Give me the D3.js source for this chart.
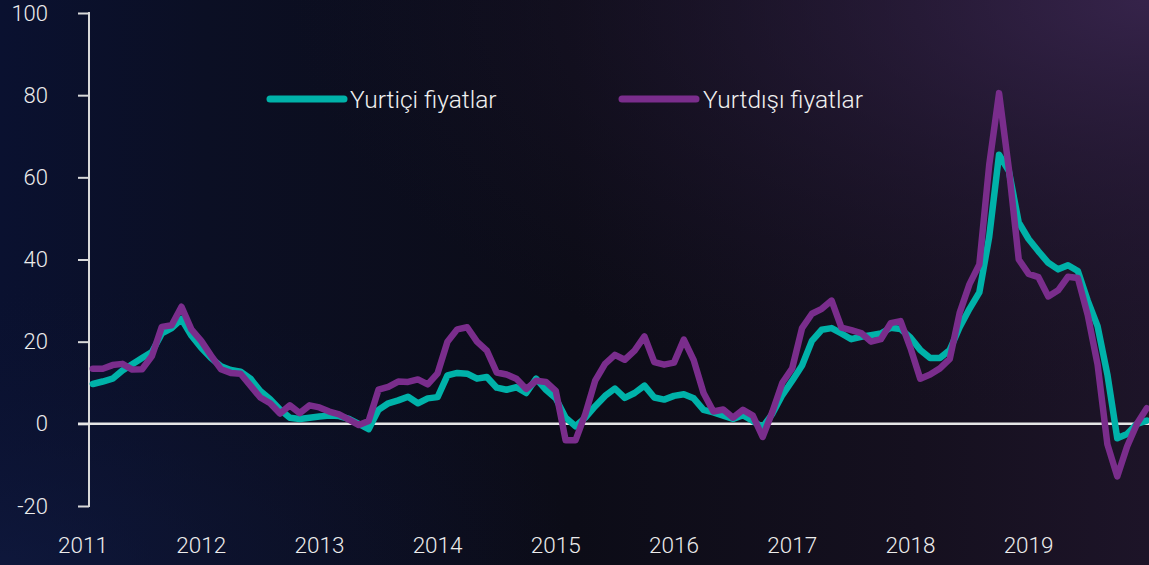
<!DOCTYPE html>
<html><head><meta charset="utf-8">
<script src="https://cdn.jsdelivr.net/npm/d3@7"></script>
<style>
html,body{margin:0;padding:0;background:#0c0c18;overflow:hidden;}
svg{display:block;}
</style></head>
<body>
<script>
// Monthly data, Feb 2011 .. Jan 2020 (month index since Jan 2011 starts at 1)
const seriesNames = ["Yurtiçi fiyatlar", "Yurtdışı fiyatlar"];
const yearLabels = ["2011","2012","2013","2014","2015","2016","2017","2018","2019"];
const yTicks = [-20, 0, 20, 40, 60, 80, 100];
const yurtici = [
  9.7, 10.3, 11, 13, 14.5, 16, 17.5, 22, 23.3, 25.5, 21.5, 18.5,
  16, 14, 13.1, 12.7, 11, 8, 6, 3.5, 1.5, 1.2, 1.5, 1.8,
  2, 1.9, 1.2, 0, -1.3, 3.4, 5, 5.7, 6.6, 5, 6.2, 6.5,
  11.8, 12.4, 12.2, 11, 11.4, 8.8, 8.3, 8.9, 7.5, 11, 8.3, 6.2,
  1.5, -0.6, 1.5, 4.3, 6.8, 8.6, 6.3, 7.5, 9.3, 6.4, 5.9, 6.8,
  7.2, 6.2, 3.4, 2.8, 2, 1.2, 2.1, 0.7, -0.8, 2.5, 7, 10.5,
  14.2, 20.2, 22.9, 23.3, 22, 20.6, 21.2, 21.6, 22, 23.4, 23.1, 21,
  18, 16, 16, 18, 23.5, 28, 32, 45.5, 65.5, 61.5, 49, 45,
  42, 39.2, 37.6, 38.6, 37.2, 30, 23.8, 12, -3.5, -2.5, 0, 0.8
];
const yurtdisi = [
  13.4, 13.4, 14.3, 14.6, 13.2, 13.3, 16.5, 23.6, 24, 28.5, 23, 20.2,
  16.6, 13.3, 12.4, 12.2, 9.3, 6.4, 5, 2.5, 4.5, 2.6, 4.5, 4,
  3, 2.3, 1, -0.3, 0.7, 8.3, 9, 10.3, 10.2, 10.8, 9.6, 12.3,
  20, 23, 23.5, 20, 17.8, 12.5, 12, 11, 8.5, 10.5, 10.2, 8,
  -4, -4, 2.4, 10.5, 14.6, 16.8, 15.6, 17.8, 21.3, 15, 14.4, 14.9,
  20.5, 15.5, 7.5, 3, 3.5, 1.5, 3.4, 2, -3.2, 3, 10, 13.5,
  23.3, 26.8, 28, 30, 23.4, 22.8, 22.1, 20, 20.6, 24.5, 25, 18.5,
  11, 12, 13.5, 15.8, 27, 34, 38.8, 63, 80.5, 62, 40, 36.5,
  35.7, 31, 32.5, 35.8, 35.5, 26.5, 14.5, -5, -12.8, -5.5, 0, 3.8
];
const colors = ["#00b2a9", "#7a2d8c"];

const W = 1149, H = 565;
const svg = d3.select("body").append("svg").attr("width", W).attr("height", H);
const defs = svg.append("defs");

// background
const lg = defs.append("linearGradient").attr("id","bg").attr("x1","0").attr("y1","0").attr("x2","1").attr("y2","0");
lg.append("stop").attr("offset","0").attr("stop-color","#0a1130");
lg.append("stop").attr("offset","0.18").attr("stop-color","#0b0f24");
lg.append("stop").attr("offset","0.5").attr("stop-color","#0c0c17");
lg.append("stop").attr("offset","0.8").attr("stop-color","#15101f");
lg.append("stop").attr("offset","1").attr("stop-color","#1d1428");
svg.append("rect").attr("width",W).attr("height",H).attr("fill","url(#bg)");
const rg = defs.append("radialGradient").attr("id","glow").attr("cx","1").attr("cy","0").attr("r","0.75");
rg.append("stop").attr("offset","0").attr("stop-color","#3a2650").attr("stop-opacity",0.85);
rg.append("stop").attr("offset","0.5").attr("stop-color","#2a1c3c").attr("stop-opacity",0.4);
rg.append("stop").attr("offset","1").attr("stop-color","#1a1226").attr("stop-opacity",0);
svg.append("rect").attr("width",W).attr("height",H).attr("fill","url(#glow)");
const rg2 = defs.append("radialGradient").attr("id","glow2").attr("cx","0").attr("cy","1").attr("r","0.5");
rg2.append("stop").attr("offset","0").attr("stop-color","#101a40").attr("stop-opacity",0.7);
rg2.append("stop").attr("offset","1").attr("stop-color","#0c1230").attr("stop-opacity",0);
svg.append("rect").attr("width",W).attr("height",H).attr("fill","url(#glow2)");

const x = d3.scaleLinear().domain([0, 108]).range([83, 83 + 108 * 9.85]);
const y = d3.scaleLinear().domain([-20, 100]).range([506, 13]);
const axisX = 89;

// y axis
const yAxis = d3.axisLeft(y).tickValues(yTicks).tickSize(11).tickPadding(30).tickFormat(d => String(d));
const gy = svg.append("g").attr("transform", `translate(${axisX},0)`).call(yAxis);
gy.select(".domain").remove();
gy.selectAll(".tick line").attr("stroke","#d9d9d9").attr("stroke-width",2);
gy.selectAll(".tick text").attr("fill","#ececec").style("font-family","Roboto, sans-serif")
  .style("font-size","22px").style("font-weight",300);
gy.append("line").attr("x1",0).attr("x2",0).attr("y1",y(100)-1).attr("y2",y(-20)+1)
  .attr("stroke","#d9d9d9").attr("stroke-width",2);

// zero line
svg.append("line").attr("x1", axisX - 11).attr("x2", W).attr("y1", y(0)).attr("y2", y(0))
  .attr("stroke","#e6e6e6").attr("stroke-width",2.5);

// x labels
svg.append("g").selectAll("text").data(yearLabels).join("text")
  .attr("x", (d,i) => x(12 * i))
  .attr("y", 553)
  .attr("text-anchor","middle")
  .attr("fill","#ececec")
  .style("font-family","Roboto, sans-serif").style("font-size","22.5px").style("font-weight",300)
  .text(d => d);

// lines
const line = d3.line().x((d,i) => x(i + 1)).y(d => y(d));
[yurtici, yurtdisi].forEach((s, k) => {
  svg.append("path").datum(s).attr("d", line).attr("fill","none")
    .attr("stroke", colors[k]).attr("stroke-width", 6.5)
    .attr("stroke-linejoin","round").attr("stroke-linecap","round");
});

// legend
const legendPos = [{x1:270, x2:344, tx:350}, {x1:622, x2:696, tx:703}];
const lgG = svg.append("g");
legendPos.forEach((p, k) => {
  lgG.append("line").attr("x1",p.x1).attr("x2",p.x2).attr("y1",99).attr("y2",99)
    .attr("stroke",colors[k]).attr("stroke-width",7).attr("stroke-linecap","round");
  lgG.append("text").attr("x",p.tx).attr("y",107.5)
    .attr("fill","#f0f0f0")
    .style("font-family","Roboto, sans-serif").style("font-size","24.5px").style("font-weight",300)
    .text(seriesNames[k]);
});
</script>
</body></html>
